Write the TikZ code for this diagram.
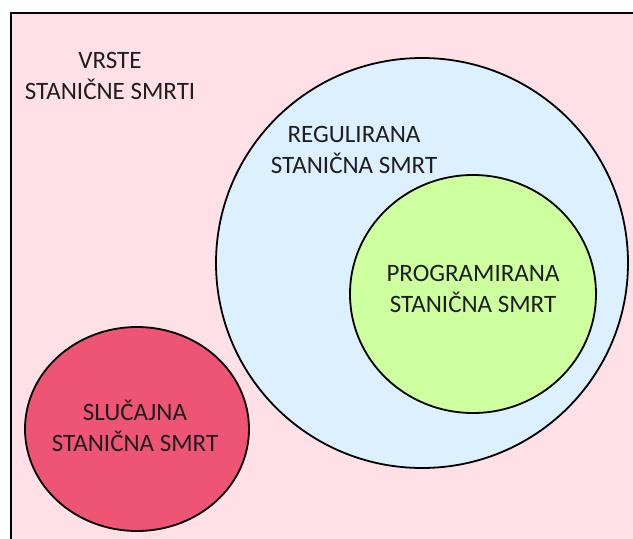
\documentclass[tikz,border=0pt]{standalone}
\usepackage{fontspec}
\setmainfont{Carlito}
\usetikzlibrary{shapes.geometric}
\definecolor{bgpink}{RGB}{255,224,230}
\definecolor{lightblue}{RGB}{220,240,255}
\definecolor{lightgreen}{RGB}{206,255,158}
\definecolor{deepred}{RGB}{238,84,115}
\definecolor{txt}{RGB}{30,30,30}
\tikzset{
  circ/.style={ellipse, draw=black, line width=1.8pt, inner sep=0pt},
  lbl/.style={align=center, text=txt, font=\fontsize{25}{31}\selectfont, inner sep=0pt}
}
\begin{document}
\begin{tikzpicture}[x=1pt,y=-1pt]
\useasboundingbox (0,0) rectangle (633,539);
\clip (0,0) rectangle (633,539);
\fill[white] (0,0) rectangle (633,539);
\draw[fill=bgpink, line width=1.8pt] (11,13) rectangle (650,560);
\node[circ, fill=lightblue, minimum width=412pt, minimum height=410pt] (reg) at (422,263) {};
\node[circ, fill=lightgreen, minimum width=246pt, minimum height=238pt] (prog) at (473,294) {};
\node[circ, fill=deepred, minimum width=224pt, minimum height=204pt] (slu) at (137,429) {};
\node[lbl] (vrste) at (110,76) {VRSTE\\STANIČNE SMRTI};
\node[lbl] (regt) at (354,150) {REGULIRANA\\STANIČNA SMRT};
\node[lbl] (progt) at (473,289) {PROGRAMIRANA\\STANIČNA SMRT};
\node[lbl] (slut) at (135,426) {SLUČAJNA\\STANIČNA SMRT};
\end{tikzpicture}
\end{document}
